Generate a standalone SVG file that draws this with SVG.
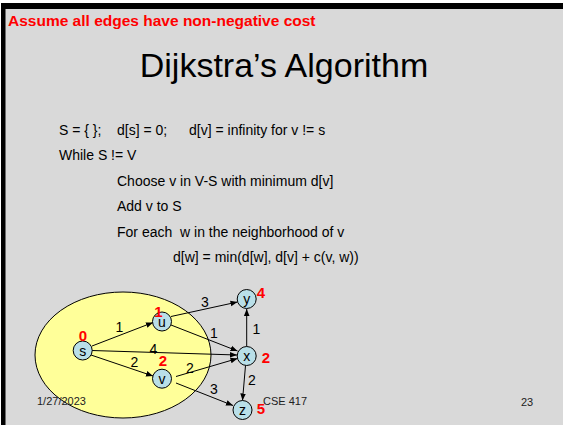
<svg xmlns="http://www.w3.org/2000/svg" width="563" height="425" viewBox="0 0 563 425">
<style>
  text { font-family: "Liberation Sans", Arial, sans-serif; }
  .body { font-size: 14px; fill: #000; white-space: pre; }
  .nodec { fill: #b9dfe8; stroke: #000; stroke-width: 1; }
  .nlab { font-size: 14px; fill: #000; text-anchor: middle; }
  .dist { font-size: 15px; font-weight: bold; fill: #ff0000; text-anchor: middle; }
  .elab { font-size: 14px; fill: #000; text-anchor: middle; }
  .edge { stroke: #000; stroke-width: 1; fill: none; marker-end: url(#arr); }
  .foot { font-size: 11px; fill: #222; }
</style>
<defs>
  <marker id="arr" viewBox="0 0 10 10" refX="10" refY="5" markerWidth="7" markerHeight="7" markerUnits="userSpaceOnUse" orient="auto">
    <path d="M0,1 L10,5 L0,9 z" fill="#000"/>
  </marker>
</defs>
<rect x="0" y="0" width="563" height="425" fill="#ffffff"/>
<rect x="5" y="9" width="558" height="416" fill="#d9d9d9"/>
<rect x="1" y="3" width="562" height="6" fill="#000"/>
<rect x="1" y="3" width="4.5" height="422" fill="#000"/>

<text x="8" y="26" font-size="15.5" font-weight="bold" fill="#ff0000">Assume all edges have non-negative cost</text>
<text x="284" y="77" font-size="34" text-anchor="middle" fill="#000">Dijkstra’s Algorithm</text>

<g id="pseudocode">
  <text class="body" y="135"><tspan x="59">S = { };</tspan><tspan x="117">d[s] = 0;</tspan><tspan x="189">d[v] = infinity for v != s</tspan></text>
  <text class="body" x="59" y="160">While S != V</text>
  <text class="body" x="117" y="185.5">Choose v in V-S with minimum d[v]</text>
  <text class="body" x="117" y="211">Add v to S</text>
  <text class="body" x="117" y="236.5">For each  w in the neighborhood of v</text>
  <text class="body" x="173" y="262">d[w] = min(d[w], d[v] + c(v, w))</text>
</g>

<ellipse id="setS" cx="123" cy="355" rx="88" ry="63" fill="#ffff99" stroke="#000" stroke-width="1"/>

<g id="footer">
  <text class="foot" x="37" y="405">1/27/2023</text>
  <text class="foot" x="263" y="405">CSE 417</text>
  <text class="foot" x="521" y="406">23</text>
</g>

<g id="edges">
  <line class="edge" x1="92" y1="346" x2="153" y2="322.5"/>
  <line class="edge" x1="92" y1="350.5" x2="237" y2="355"/>
  <line class="edge" x1="91" y1="355" x2="153" y2="376"/>
  <line class="edge" x1="171" y1="316.5" x2="237.5" y2="302"/>
  <line class="edge" x1="171" y1="325" x2="237.5" y2="351"/>
  <line class="edge" x1="246.7" y1="346.5" x2="246.7" y2="309"/>
  <line class="edge" x1="176" y1="376.5" x2="237.5" y2="358.5"/>
  <line class="edge" x1="176" y1="383" x2="233" y2="405.5"/>
  <line class="edge" x1="245.5" y1="365.5" x2="242.5" y2="400.5"/>
  <text class="elab" x="119.5" y="332">1</text>
  <text class="elab" x="153.5" y="354">4</text>
  <text class="elab" x="134.5" y="367">2</text>
  <text class="elab" x="205" y="307">3</text>
  <text class="elab" x="214" y="338">1</text>
  <text class="elab" x="256.5" y="334">1</text>
  <text class="elab" x="190" y="373">2</text>
  <text class="elab" x="214" y="394">3</text>
  <text class="elab" x="252" y="385">2</text>
</g>

<g id="node-s">
  <circle class="nodec" cx="82.7" cy="350.5" r="9.5"/>
  <text class="nlab" x="82.7" y="355.5">s</text>
  <text class="dist" x="83" y="340.5">0</text>
</g>
<g id="node-u">
  <circle class="nodec" cx="162" cy="321.5" r="9.5"/>
  <text class="nlab" x="162" y="326.5">u</text>
  <text class="dist" x="158.5" y="317">1</text>
</g>
<g id="node-v">
  <circle class="nodec" cx="162" cy="378.7" r="9.5"/>
  <text class="nlab" x="162" y="383.7">v</text>
  <text class="dist" x="163" y="366">2</text>
</g>
<g id="node-y">
  <circle class="nodec" cx="246.7" cy="299" r="9.5"/>
  <text class="nlab" x="246.7" y="304">y</text>
  <text class="dist" x="261" y="298">4</text>
</g>
<g id="node-x">
  <circle class="nodec" cx="246.7" cy="356" r="9.5"/>
  <text class="nlab" x="246.7" y="361">x</text>
  <text class="dist" x="266" y="363">2</text>
</g>
<g id="node-z">
  <circle class="nodec" cx="242.5" cy="410" r="9.5"/>
  <text class="nlab" x="242.5" y="415">z</text>
  <text class="dist" x="261" y="414">5</text>
</g>
</svg>
